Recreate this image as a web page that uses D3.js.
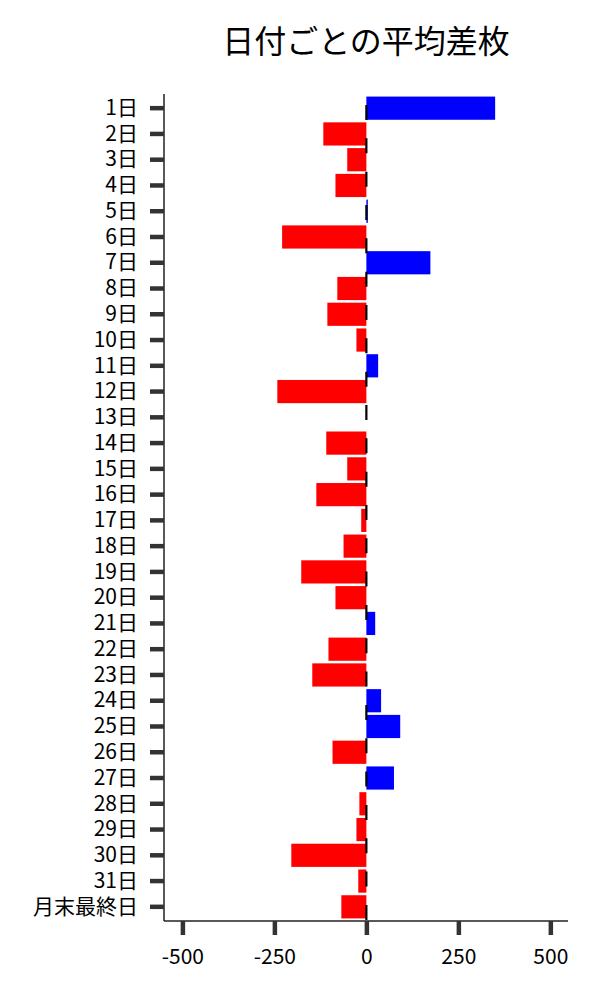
<!DOCTYPE html>
<html>
<head>
<meta charset="utf-8">
<script src="https://cdn.jsdelivr.net/npm/d3@7"></script>
<style>
  body { margin: 0; background: #fff; }
  text { font-family: "Noto Sans CJK JP", "Noto Sans", sans-serif; }
</style>
</head>
<body>
<div id="chart"></div>
<script>
var days = ["1日","2日","3日","4日","5日","6日","7日","8日","9日","10日",
            "11日","12日","13日","14日","15日","16日","17日","18日","19日","20日",
            "21日","22日","23日","24日","25日","26日","27日","28日","29日","30日",
            "31日","月末最終日"];
var avgDiff = [350, -117, -52, -84, 4, -229, 174, -79, -106, -27,
               32, -242, 0, -109, -52, -136, -14, -62, -177, -84,
               24, -103, -147, 40, 92, -92, 75, -19, -27, -204,
               -22, -68];
var xTicks = [-500, -250, 0, 250, 500];
var title = "日付ごとの平均差枚";

var margin = {top: 94, right: 32, bottom: 79, left: 164},
    width = 600 - margin.left - margin.right,
    height = 1000 - margin.top - margin.bottom;

var posColor = "#0000ff";
var negColor = "#ff0000";
var tickColor = "#333333";

var svg = d3.select("#chart").append("svg")
    .attr("width", 600)
    .attr("height", 1000);

var g = svg.append("g")
    .attr("transform", "translate(" + margin.left + "," + margin.top + ")");

var x = d3.scaleLinear()
    .domain([-550, 548])
    .range([0, width]);

var y = d3.scaleBand()
    .domain(days)
    .range([0, height])
    .paddingInner(0.1)
    .paddingOuter(0.1);

var data = days.map((d, i) => { return {day: d, value: avgDiff[i]}; });

// title centred over the plot area
svg.append("text")
    .attr("x", margin.left + width / 2)
    .attr("y", 53)
    .attr("text-anchor", "middle")
    .style("font-size", "32px")
    .style("fill", "#000")
    .text(title);

g.selectAll(".bar")
    .data(data)
    .enter().append("rect")
    .attr("class", "bar")
    .attr("x", d => { return x(Math.min(0, d.value)); })
    .attr("y", d => { return y(d.day); })
    .attr("width", d => { return Math.abs(x(d.value) - x(0)); })
    .attr("height", y.bandwidth())
    .style("fill", d => { return d.value >= 0 ? posColor : negColor; });

// dashed zero line on top of the bars
g.append("line")
    .attr("x1", x(0)).attr("x2", x(0))
    .attr("y1", 0).attr("y2", height)
    .attr("stroke", "#000")
    .attr("stroke-width", 2.2)
    .attr("stroke-dasharray", "15,18.33")
    .attr("stroke-dashoffset", 22.33);

var yAxis = d3.axisLeft(y).tickSize(14).tickPadding(12);
var xAxis = d3.axisBottom(x).tickValues(xTicks).tickSize(14).tickPadding(14)
    .tickFormat(d3.format("d"));

var gy = g.append("g")
    .attr("class", "y axis")
    .call(yAxis);

var gx = g.append("g")
    .attr("class", "x axis")
    .attr("transform", "translate(0," + height + ")")
    .call(xAxis);

[gy, gx].forEach(a => {
    a.select(".domain")
        .attr("stroke", "#222")
        .attr("stroke-width", 1.5);
    a.selectAll(".tick line")
        .attr("stroke", tickColor)
        .attr("stroke-width", 4.5);
    a.selectAll(".tick text")
        .style("font-size", "21px")
        .style("fill", "#000");
});

// only the left and bottom spines, no end caps
gy.select(".domain").attr("d", "M0,0V" + height);
gx.select(".domain").attr("d", "M0,0H" + width);
gx.selectAll(".tick text").text(d => { return d < 0 ? "-" + Math.abs(d) : d; });
</script>
</body>
</html>
